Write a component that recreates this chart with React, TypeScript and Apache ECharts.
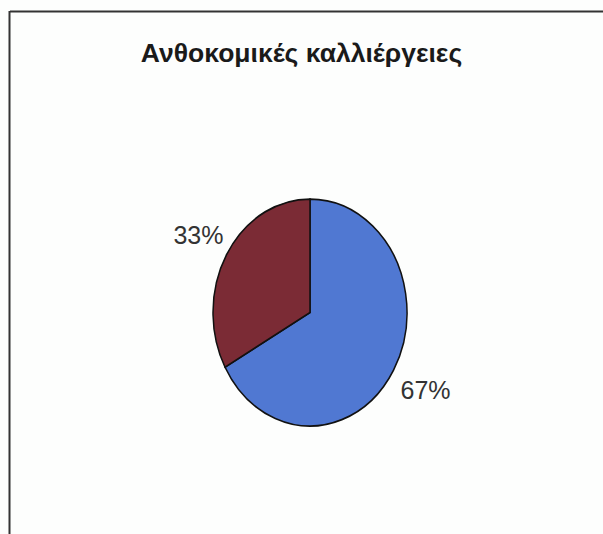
import React, { useEffect, useRef } from "react";
import * as echarts from "echarts";

const categories = ["Κατηγορία Α", "Κατηγορία Β"];
const values = [67, 33];
const colors = ["#5078D2", "#7B2B35"];
const title = "Ανθοκομικές καλλιέργειες";

export default function App() {
  const ref = useRef<HTMLDivElement>(null);
  useEffect(() => {
    if (!ref.current) return;
    const chart = echarts.init(ref.current, null, { renderer: "svg" });
    const total = values.reduce((a, b) => a + b, 0);
    const cx = 310;
    const cy = 312.5;
    const rx = 97;
    const ry = 113.5;
    const starts: number[] = [];
    let acc = 0;
    values.forEach((v) => {
      starts.push(acc);
      acc += v;
    });
    const option: any = {
      animation: false,
      backgroundColor: "#fdfefd",
      title: {
        text: title,
        left: "center",
        top: 34,
        textStyle: {
          fontFamily: "Liberation Sans",
          fontWeight: "bold",
          fontSize: 26.5,
          color: "#1a1a1a",
        },
      },
      graphic: [
        { type: "line", shape: { x1: 10, y1: 11.5, x2: 603, y2: 11.5 }, style: { stroke: "#333", lineWidth: 2 } },
        { type: "line", shape: { x1: 9.5, y1: 11, x2: 9.5, y2: 534 }, style: { stroke: "#333", lineWidth: 2 } },
      ],
      series: [
        {
          type: "custom",
          coordinateSystem: "none",
          data: values.map((v, i) => ({ name: categories[i], value: v })),
          renderItem: (params: any, api: any) => {
            const i = params.dataIndex;
            const v = api.value(0);
            const a0 = -Math.PI / 2 + (starts[i] / total) * Math.PI * 2;
            const a1 = a0 + (v / total) * Math.PI * 2;
            const mid = (a0 + a1) / 2;
            const lr = 1.36;
            return {
              type: "group",
              children: [
                {
                  type: "group",
                  x: cx,
                  y: cy,
                  scaleY: ry / rx,
                  children: [
                    {
                      type: "sector",
                      shape: { cx: 0, cy: 0, r0: 0, r: rx, startAngle: a0, endAngle: a1, clockwise: true },
                      style: { fill: colors[i], stroke: "#111", lineWidth: 1.5, strokeNoScale: true },
                    },
                  ],
                },
                {
                  type: "text",
                  x: cx + Math.cos(mid) * rx * lr + 2,
                  y: cy + Math.sin(mid) * ry * lr * 0.98,
                  style: {
                    text: Math.round((v / total) * 100) + "%",
                    fontFamily: "Liberation Sans",
                    fontSize: 25,
                    fill: "#333",
                    align: "center",
                    verticalAlign: "middle",
                  },
                },
              ],
            };
          },
        },
      ],
    };
    chart.setOption(option);
    return () => chart.dispose();
  }, []);
  return <div ref={ref} style={{ width: 603, height: 534, position: "absolute", left: 0, top: 0 }} />;
}
